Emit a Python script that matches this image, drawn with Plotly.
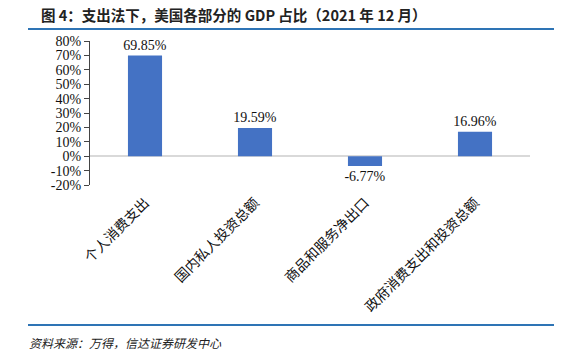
import plotly.graph_objects as go

categories = ["个人消费支出", "国内私人投资总额", "商品和服务净出口", "政府消费支出和投资总额"]
values = [69.85, 19.59, -6.77, 16.96]
y_ticks = [-20, -10, 0, 10, 20, 30, 40, 50, 60, 70, 80]
y_tick_labels = [f"{v}%" for v in y_ticks]

title_text = "图 4：支出法下，美国各部分的 GDP 占比（2021 年 12 月）"
source_text = "资料来源：万得，信达证券研发中心"

serif = "Liberation Serif, Noto Sans CJK SC, serif"

fig = go.Figure()
fig.add_trace(go.Bar(
    x=categories, y=values,
    marker=dict(color="#4472C4", line=dict(width=0)),
    width=0.31,
    text=[f"{v:.2f}%" for v in values],
    textposition="outside",
    constraintext="none",
    textfont=dict(family=serif, size=14, color="#111"),
    cliponaxis=False,
))

fig.update_layout(
    width=569, height=353,
    margin=dict(l=90, r=39, t=41, b=168),
    paper_bgcolor="white", plot_bgcolor="white",
    showlegend=False,
    bargap=0.69,
    xaxis=dict(
        tickangle=-45, showline=False, ticks="", showgrid=False, zeroline=False,
        ticklabelstandoff=6,
        tickfont=dict(family=serif, size=14, color="#111"),
    ),
    yaxis=dict(
        range=[-20, 80], tickvals=y_ticks, ticktext=y_tick_labels,
        showline=True, linecolor="#444", linewidth=1,
        ticks="outside", ticklen=5, tickcolor="#444",
        showgrid=False, zeroline=True, zerolinecolor="#d9d9d9", zerolinewidth=1.5,
        tickfont=dict(family=serif, size=14, color="#111"),
    ),
    annotations=[
        dict(text="<b>" + title_text + "</b>", xref="paper", yref="paper",
             x=(39 - 90) / 440, y=(185 - 14) / 144, xanchor="left", yanchor="middle",
             showarrow=False, font=dict(family="Noto Sans CJK SC", size=14.5, color="#222")),
        dict(text="<i>" + source_text + "</i>", xref="paper", yref="paper",
             x=(27 - 90) / 440, y=(185 - 342) / 144, xanchor="left", yanchor="middle",
             showarrow=False, font=dict(family="Noto Sans CJK SC", size=12, color="#222")),
    ],
    shapes=[
        dict(type="line", xref="paper", yref="paper",
             x0=(28 - 90) / 440, x1=(554 - 90) / 440,
             y0=(185 - 29) / 144, y1=(185 - 29) / 144,
             line=dict(color="#2E74B5", width=2)),
        dict(type="line", xref="paper", yref="paper",
             x0=(28 - 90) / 440, x1=(554 - 90) / 440,
             y0=(185 - 325) / 144, y1=(185 - 325) / 144,
             line=dict(color="#2E74B5", width=2)),
    ],
)

fig.write_html("out.html")
